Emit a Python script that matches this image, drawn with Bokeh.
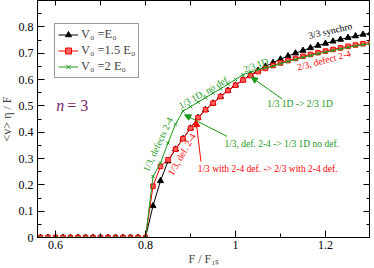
from bokeh.plotting import figure
from bokeh.models import (Range1d, LinearAxis, FixedTicker, Legend, LegendItem,
                          Arrow, NormalHead)
from bokeh.core.properties import value
from bokeh.embed import file_html
from bokeh.resources import INLINE

# ---------------- data ----------------
F_ratio = [0.5667, 0.5833, 0.6, 0.6167, 0.6333, 0.65, 0.6667, 0.6833, 0.7, 0.7167,
           0.7333, 0.75, 0.7667, 0.7833, 0.8, 0.8167, 0.8333, 0.85, 0.8667, 0.8833,
           0.9, 0.9167, 0.9333, 0.95, 0.9667, 0.9833, 1.0, 1.0167, 1.0333, 1.05,
           1.0667, 1.0833, 1.1, 1.1167, 1.1333, 1.15, 1.1667, 1.1833, 1.2, 1.2167,
           1.2333, 1.25, 1.2667, 1.2833, 1.3]
zeros = [0.0] * 15
v_E0 = zeros + [0.12, 0.215, 0.29, 0.335, 0.375, 0.415, 0.455, 0.485, 0.51, 0.535,
                0.558, 0.578, 0.598, 0.617, 0.634, 0.65, 0.664, 0.677, 0.689, 0.70,
                0.71, 0.72, 0.729, 0.737, 0.745, 0.752, 0.759, 0.765, 0.771, 0.776]
v_15E0 = zeros + [0.195, 0.27, 0.295, 0.335, 0.375, 0.415, 0.455, 0.485, 0.51, 0.535,
                  0.558, 0.578, 0.598, 0.615, 0.63, 0.642, 0.653, 0.663, 0.672, 0.68,
                  0.688, 0.695, 0.702, 0.708, 0.714, 0.72, 0.726, 0.731, 0.736, 0.741]
v_2E0 = zeros + [0.232, 0.283, 0.359, 0.43, 0.48, 0.497, 0.514, 0.531, 0.548, 0.565,
                 0.582, 0.6, 0.618, 0.628, 0.637, 0.644, 0.651, 0.66, 0.668, 0.676,
                 0.684, 0.691, 0.698, 0.704, 0.71, 0.716, 0.722, 0.727, 0.732, 0.736]

series_labels = ["V\u2080 =E\u2080", "V\u2080 =1.5 E\u2080", "V\u2080 =2 E\u2080"]
x_title = "F / F\u2081\u209b"
y_title = "<v> \u03b7 / F"

x_ticks = [0.6, 0.8, 1.0, 1.2]
x_tick_labels = ["0.6", "0.8", "1", "1.2"]
x_minor = [0.6, 0.7, 0.8, 0.9, 1.0, 1.1, 1.2, 1.3]
y_ticks = [0.0, 0.1, 0.2, 0.3, 0.4, 0.5, 0.6, 0.7, 0.8]
y_tick_labels = ["0", "0.1", "0.2", "0.3", "0.4", "0.5", "0.6", "0.7", "0.8"]
y_minor = [0.0, 0.05, 0.1, 0.15, 0.2, 0.25, 0.3, 0.35, 0.4, 0.45, 0.5, 0.55, 0.6,
           0.65, 0.7, 0.75, 0.8, 0.85, 0.9]

GREEN = "#1a9a1a"
PURPLE = "#7a1f6e"
# rotated curve annotations: text, x, y, angle, colour
curve_notes = [
    ("3/3 synchro", 1.2106, 0.784, 13, "black"),
    ("2/3, defect 2-4", 1.1965, 0.672, 15, "red"),
    ("2/3 1D", 1.0453, 0.653, 20, GREEN),
    ("1/3 1D, no def.", 0.9305, 0.551, 30, GREEN),
    ("1/3, defects 2-4", 0.828, 0.353, 65, GREEN),
    ("1/3, def. 2-4", 0.881, 0.315, 60, "red"),
]
# horizontal transition notes: text, x_left, y_mid, colour
transition_notes = [
    ("1/3 1D -> 2/3 1D", 1.0707, 0.507, GREEN),
    ("1/3, def. 2-4 -> 1/3 1D no def.", 0.9753, 0.356, GREEN),
    ("1/3 with 2-4 def. -> 2/3 with 2-4 def.", 0.916, 0.261, "red"),
]
# arrows: x_start, y_start, x_end, y_end, colour
arrows = [
    (1.1039, 0.5255, 1.0354, 0.6087, GREEN),
    (0.9811, 0.384, 0.887, 0.466, GREEN),
    (0.9232, 0.2885, 0.9124, 0.4435, "red"),
]

FONT = "Liberation Serif"

p = figure(width=374, height=268, x_range=Range1d(0.56, 1.3), y_range=Range1d(0, 0.9),
           output_backend="svg", toolbar_location=None,
           min_border_left=33, min_border_right=0, min_border_top=0, min_border_bottom=29,
           x_axis_location=None, y_axis_location=None)
p.margin = (0, 0, 0, -4)
p.outline_line_color = "black"
p.outline_line_width = 1
p.xgrid.visible = False
p.ygrid.visible = False
p.background_fill_color = "white"
p.border_fill_color = "white"


def style_axis(ax, labels=True):
    ax.axis_line_color = "black"
    ax.major_tick_in = 7
    ax.major_tick_out = 0
    ax.minor_tick_in = 4
    ax.minor_tick_out = 0
    ax.major_tick_line_color = "black"
    ax.minor_tick_line_color = "black"
    ax.major_label_text_font = FONT
    ax.major_label_text_font_size = "12px" if labels else "0px"
    ax.major_label_text_color = "black"
    ax.axis_label_text_font = FONT
    ax.axis_label_text_font_style = "normal"
    ax.axis_label_text_font_size = "12px"


xb = LinearAxis(ticker=FixedTicker(ticks=x_ticks, minor_ticks=x_minor),
                major_label_overrides={t: l for t, l in zip(x_ticks, x_tick_labels)},
                axis_label=x_title)
style_axis(xb)
xb.major_label_standoff = 3
xb.axis_label_standoff = 0
p.add_layout(xb, "below")

yl = LinearAxis(ticker=FixedTicker(ticks=y_ticks, minor_ticks=y_minor),
                major_label_overrides={t: l for t, l in zip(y_ticks, y_tick_labels)},
                axis_label=y_title)
style_axis(yl)
yl.major_label_standoff = 4
yl.axis_label_standoff = 2
p.add_layout(yl, "left")

xt = LinearAxis(ticker=FixedTicker(ticks=x_minor, minor_ticks=[]),
                major_label_overrides={t: "" for t in x_minor})
style_axis(xt, labels=False)
xt.major_tick_in = 5
xt.major_label_standoff = 0
p.add_layout(xt, "above")

yr = LinearAxis(ticker=FixedTicker(ticks=y_ticks, minor_ticks=y_minor),
                major_label_overrides={t: "" for t in y_ticks})
style_axis(yr, labels=False)
yr.major_label_standoff = 0
p.add_layout(yr, "right")

# curves
l0 = p.line(F_ratio, v_E0, line_color="black", line_width=1)
m0 = p.scatter(F_ratio, v_E0, marker="triangle", size=6, fill_color="black",
               line_color="black")
l1 = p.line(F_ratio, v_15E0, line_color="red", line_width=1)
m1 = p.scatter(F_ratio, v_15E0, marker="square", size=4.5, fill_color="#ff6060",
               line_color="red")
l2 = p.line(F_ratio, v_2E0, line_color=GREEN, line_width=1)
m2 = p.scatter(F_ratio, v_2E0, marker="x", size=4.5, line_color=GREEN, line_width=1)

legend = Legend(items=[LegendItem(label=series_labels[0], renderers=[l0, m0]),
                       LegendItem(label=series_labels[1], renderers=[l1, m1]),
                       LegendItem(label=series_labels[2], renderers=[l2, m2])],
                location=(17, 159), label_text_font=FONT, label_text_font_size="12.5px",
                glyph_width=20, glyph_height=15, label_height=15, spacing=1,
                padding=3, margin=0, label_standoff=3,
                border_line_color="#333333", border_line_width=1,
                background_fill_color="white", background_fill_alpha=1)
p.add_layout(legend, "center")

# n = 3
p.text(x=[0.6015], y=[0.5], text=["n"], text_font=value(FONT), text_font_size="16px",
       text_font_style="italic", text_color=PURPLE, text_baseline="alphabetic")
p.text(x=[0.626], y=[0.5], text=["= 3"], text_font=value(FONT), text_font_size="16px",
       text_color=PURPLE, text_baseline="alphabetic")

for t, x, y, a, c in curve_notes:
    p.text(x=[x], y=[y], text=[t], angle=a, angle_units="deg", text_font=value(FONT),
           text_font_size="9.5px", text_color=c, text_align="center",
           text_baseline="middle")

for t, x, y, c in transition_notes:
    p.text(x=[x], y=[y], text=[t], text_font=value(FONT), text_font_size="9.5px",
           text_color=c, text_align="left", text_baseline="middle")

for x0, y0, x1, y1, c in arrows:
    p.add_layout(Arrow(x_start=x0, y_start=y0, x_end=x1, y_end=y1, line_color=c,
                       line_width=1,
                       end=NormalHead(size=6, fill_color=c, line_color=c, line_width=1)))

open("out.html", "w").write(file_html(p, INLINE))
